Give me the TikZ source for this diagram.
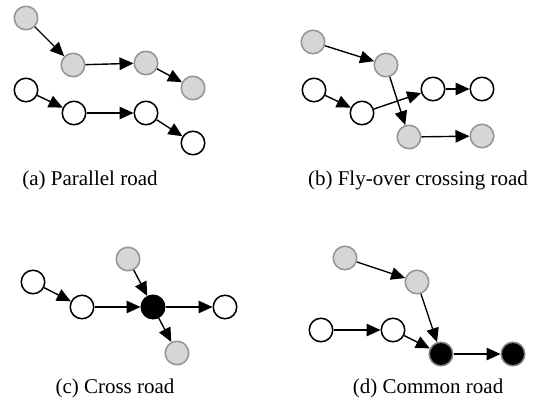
\documentclass[tikz,border=0pt]{standalone}
\usepackage{fontspec}
\setmainfont{Liberation Serif}
\usetikzlibrary{arrows.meta}
\begin{document}
\begin{tikzpicture}[x=1pt,y=-1pt,
  wnode/.style={circle,draw=black,line width=1.5pt,fill=white,minimum size=23.5pt,inner sep=0pt},
  gnode/.style={circle,draw=black!42,line width=1.5pt,fill=black!16,minimum size=23.5pt,inner sep=0pt},
  bnode/.style={circle,draw=black,line width=1.5pt,fill=black,minimum size=23.5pt,inner sep=0pt},
  bgnode/.style={circle,draw=black!50,line width=1.5pt,fill=black,minimum size=23.5pt,inner sep=0pt},
  edge/.style={line width=1.4pt,-{Triangle[length=14pt,width=12.5pt]}},
  captext/.style={font=\fontsize{21}{24}\selectfont,anchor=center}]
\useasboundingbox (0,0) rectangle (543,403);
% (a)
\node[gnode] (a1) at (26,18) {};
\node[gnode] (a2) at (73,65) {};
\node[gnode] (a3) at (146,63) {};
\node[gnode] (a4) at (193,88) {};
\node[wnode] (a5) at (26,90) {};
\node[wnode] (a6) at (74,113) {};
\node[wnode] (a7) at (146,113) {};
\node[wnode] (a8) at (193,143) {};
\draw[edge] (a1) -- (a2);
\draw[edge] (a2) -- (a3);
\draw[edge] (a3) -- (a4);
\draw[edge] (a5) -- (a6);
\draw[edge] (a6) -- (a7);
\draw[edge] (a7) -- (a8);
\node[captext] (capa) at (90,180) {(a) Parallel road};
% (b)
\node[gnode] (b1) at (313,42) {};
\node[gnode] (b2) at (386,65) {};
\node[wnode] (b3) at (314,90) {};
\node[wnode] (b4) at (362,113) {};
\node[wnode] (b5) at (433,89) {};
\node[wnode] (b6) at (482,89) {};
\draw[edge] (b1) -- (b2);
\draw[edge] (b3) -- (b4);
\draw[edge] (b4) -- (b5);
\draw[edge] (b5) -- (b6);
\node[gnode] (b7) at (409,137) {};
\node[gnode] (b8) at (482,136) {};
\draw[edge] (b2) -- (b7);
\draw[edge] (b7) -- (b8);
\node[captext] (capb) at (418,180) {(b) Fly-over crossing road};
% (c)
\node[wnode] (c1) at (33,282) {};
\node[wnode] (c2) at (82,307) {};
\node[bnode] (c3) at (153,307) {};
\node[gnode] (c4) at (128,259) {};
\node[gnode] (c5) at (177,353) {};
\node[wnode] (c6) at (225,307) {};
\draw[edge] (c1) -- (c2);
\draw[edge] (c2) -- (c3);
\draw[edge] (c4) -- (c3);
\draw[edge] (c3) -- (c6);
\draw[edge] (c3) -- (c5);
\node[captext] (capc) at (115,388) {(c) Cross road};
% (d)
\node[gnode] (d1) at (345,258) {};
\node[gnode] (d2) at (417,282) {};
\node[wnode] (d3) at (321,330) {};
\node[wnode] (d4) at (393,330) {};
\node[bgnode] (d5) at (441,354) {};
\node[bgnode] (d6) at (513,354) {};
\draw[edge] (d1) -- (d2);
\draw[edge] (d2) -- (d5);
\draw[edge] (d3) -- (d4);
\draw[edge] (d4) -- (d5);
\draw[edge] (d5) -- (d6);
\node[captext] (capd) at (428,388) {(d) Common road};
\end{tikzpicture}
\end{document}
